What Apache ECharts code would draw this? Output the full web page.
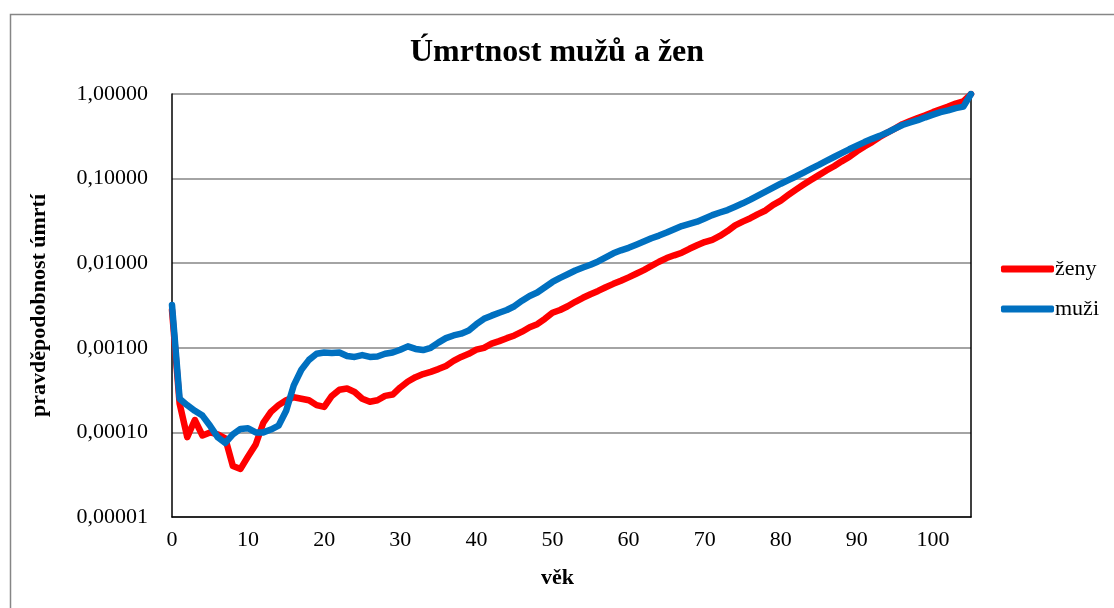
<!DOCTYPE html>
<html>
<head>
<meta charset="utf-8">
<script src="https://cdn.jsdelivr.net/npm/echarts@6/dist/echarts.min.js"></script>
<style>
html,body{margin:0;padding:0;background:#fff;}
#c{width:1114px;height:608px;}
</style>
</head>
<body>
<div id="c"></div>
<script>
const ages = Array.from({length:106},(_,i)=>i);
const zeny = [
0.0028,0.00022,0.000088,0.00014,0.000092,0.0001,0.000095,0.000085,0.00004,0.000037,
0.000052,0.000072,0.00013,0.000175,0.00021,0.00024,0.00026,0.00025,0.00024,0.00021,
0.0002,0.00027,0.00032,0.00033,0.0003,0.00025,0.00023,0.00024,0.00027,0.00028,
0.00034,0.0004,0.00045,0.00049,0.00052,0.00056,0.00061,0.0007,0.00078,0.00085,
0.00095,0.001,0.00112,0.0012,0.0013,0.0014,0.00155,0.00175,0.0019,0.0022,
0.0026,0.0028,0.0031,0.0035,0.0039,0.0043,0.0047,0.0052,0.0057,0.0062,
0.0068,0.0075,0.0083,0.0093,0.0104,0.0115,0.0124,0.0133,0.0148,0.0163,
0.0178,0.0189,0.021,0.024,0.028,0.031,0.034,0.038,0.042,0.049,
0.055,0.064,0.074,0.085,0.097,0.11,0.125,0.14,0.16,0.18,
0.21,0.24,0.27,0.31,0.35,0.39,0.44,0.48,0.52,0.56,
0.61,0.66,0.71,0.77,0.82,1.0];
const muzi = [
0.0032,0.00025,0.00021,0.00018,0.000158,0.00012,0.000088,0.000075,0.000095,0.00011,
0.000112,0.0001,0.0001,0.000108,0.00012,0.00018,0.00036,0.00055,0.00072,0.00085,
0.00088,0.00087,0.00088,0.0008,0.00078,0.00082,0.00078,0.00079,0.00085,0.00088,
0.00095,0.00104,0.00097,0.00094,0.001,0.00115,0.0013,0.0014,0.00147,0.0016,
0.0019,0.0022,0.0024,0.0026,0.0028,0.0031,0.0036,0.0041,0.0045,0.0052,
0.006,0.0067,0.0074,0.0082,0.0089,0.0096,0.0105,0.0117,0.0131,0.0142,
0.0152,0.0165,0.018,0.0197,0.0212,0.023,0.0252,0.0275,0.0292,0.031,
0.0338,0.037,0.0397,0.0425,0.0465,0.051,0.0565,0.063,0.07,0.078,
0.087,0.096,0.106,0.118,0.131,0.145,0.162,0.18,0.2,0.222,
0.245,0.27,0.295,0.32,0.35,0.39,0.43,0.46,0.49,0.53,
0.57,0.61,0.64,0.68,0.71,1.0];
const seriesNames = ['ženy','muži'];
const title = 'Úmrtnost mužů a žen';
const xName = 'věk';
const yName = 'pravděpodobnost úmrtí';

const FONT = "'Liberation Serif','Times New Roman',serif";
const chart = echarts.init(document.getElementById('c'), null, {renderer:'canvas'});
const fmtY = v => Number(v).toFixed(5).replace('.', ',');
chart.setOption({
  animation:false,
  backgroundColor:'#fff',
  textStyle:{fontFamily:FONT},
  graphic:[{type:'rect',left:8,top:12,shape:{x:0,y:0,width:1130,height:620},
    style:{fill:'none',stroke:'#868686',lineWidth:1.5},silent:true,z:-1}],
  title:{text:title,left:'center',top:32,
    textStyle:{fontFamily:FONT,fontSize:32,fontWeight:'bold',color:'#000'}},
  legend:{orient:'vertical',left:996,top:253,itemWidth:53,itemHeight:7,itemGap:18,
    icon:'roundRect',
    textStyle:{fontFamily:FONT,fontSize:22,color:'#000',padding:[0,0,0,-4]},
    data:seriesNames},
  grid:{left:172,right:143,top:94,bottom:91,containLabel:false},
  xAxis:{type:'value',min:0,max:105,interval:10,
    name:xName,nameLocation:'middle',nameGap:50,
    nameTextStyle:{fontFamily:FONT,fontSize:22,fontWeight:'bold',color:'#000',padding:[0,28,0,0]},
    axisLine:{lineStyle:{color:'#000',width:1.5}},
    axisTick:{show:false},
    splitLine:{show:false},
    axisLabel:{fontFamily:FONT,fontSize:22,color:'#000',margin:12,
      formatter:v=>(v%10===0?String(v):'')}},
  yAxis:[{type:'log',logBase:10,min:0.00001,max:1,
    name:yName,nameLocation:'middle',nameGap:122,nameRotate:90,
    nameTextStyle:{fontFamily:FONT,fontSize:22,fontWeight:'bold',color:'#000'},
    axisLine:{show:true,lineStyle:{color:'#000',width:1.5}},
    axisTick:{show:false},
    splitLine:{show:true,lineStyle:{color:'#868686',width:1.5}},
    axisLabel:{fontFamily:FONT,fontSize:22,color:'#000',margin:24,formatter:fmtY}},
   {type:'log',logBase:10,min:0.00001,max:1,position:'right',
    axisLine:{show:true,lineStyle:{color:'#000',width:1.5}},
    axisTick:{show:false},axisLabel:{show:false},splitLine:{show:false}}],
  series:[
    {name:seriesNames[0],type:'line',showSymbol:false,symbol:'none',
     data:ages.map((a,i)=>[a,zeny[i]]),
     itemStyle:{color:'#FF0000'},
     lineStyle:{color:'#FF0000',width:6.5,join:'round',cap:'round'},z:2},
    {name:seriesNames[1],type:'line',showSymbol:false,symbol:'none',
     data:ages.map((a,i)=>[a,muzi[i]]),
     itemStyle:{color:'#0070C0'},
     lineStyle:{color:'#0070C0',width:6.5,join:'round',cap:'round'},z:3}
  ]
});
</script>
</body>
</html>
